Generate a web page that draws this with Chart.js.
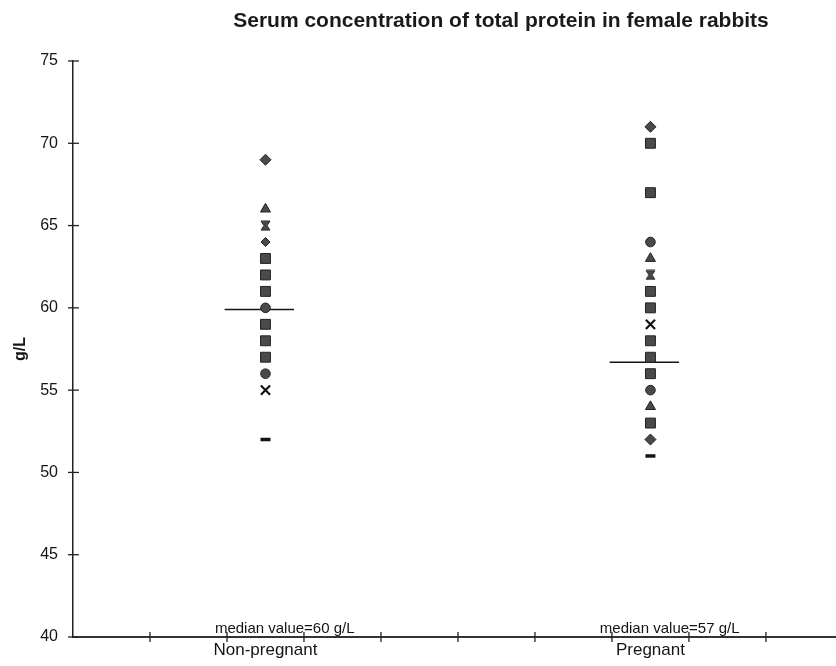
<!DOCTYPE html>
<html>
<head>
<meta charset="utf-8">
<title>Serum concentration of total protein in female rabbits</title>
<script src="https://cdn.jsdelivr.net/npm/chart.js@4.4.1/dist/chart.umd.min.js"></script>
<style>
  html, body { margin: 0; padding: 0; background: #fff; }
  #wrap { width: 836px; height: 666px; }
</style>
</head>
<body>
<div id="wrap"><canvas id="chart" width="836" height="666"></canvas></div>
<script>
// data
const chartTitle = 'Serum concentration of total protein in female rabbits';
const yTitle = 'g/L';
const groups = ['Non-pregnant', 'Pregnant'];
const groupX = [2.5, 7.5];
const nonPregnantValues = [69, 66, 65, 64, 63, 62, 61, 60, 59, 58, 57, 56, 55, 52];
const pregnantValues = [71, 70, 67, 64, 63, 62, 61, 60, 59, 58, 57, 56, 55, 54, 53, 52, 51];
const medianValues = [59.9, 56.7];
const medianLabels = ['median value=60 g/L', 'median value=57 g/L'];

// marker shape of each point (style only)
const nonPregnantMarkers = ['diamond', 'triangle', 'hourglass', 'diamondSm', 'square', 'square', 'square',
  'circle', 'square', 'square', 'square', 'circle', 'x', 'dash'];
const pregnantMarkers = ['diamond', 'square', 'square', 'circle', 'triangle', 'hourglass', 'square', 'square',
  'x', 'square', 'square', 'square', 'circle', 'triangle', 'square', 'diamond', 'dash'];

const FONT = "'Liberation Sans', Arial, Helvetica, sans-serif";
const fillCol = '#4a4a4a';
const edgeCol = '#222';
const inkCol = '#141414';

Chart.defaults.font.family = FONT;
Chart.defaults.color = inkCol;

function makeHourglass() {
  const c = document.createElement('canvas');
  c.width = 11; c.height = 11;
  const g = c.getContext('2d');
  g.fillStyle = fillCol;
  g.strokeStyle = edgeCol;
  g.lineWidth = 1;
  g.beginPath();
  g.moveTo(1, 1); g.lineTo(10, 1); g.lineTo(7, 5.5); g.lineTo(10, 10);
  g.lineTo(1, 10); g.lineTo(4, 5.5); g.closePath();
  g.fill(); g.stroke();
  return c;
}

const markerStyle = {
  diamond:   { style: 'rectRot', r: 5.5, bw: 1 },
  diamondSm: { style: 'rectRot', r: 4.5, bw: 1 },
  triangle:  { style: 'triangle', r: 5.8, bw: 1 },
  square:    { style: 'rect', r: 7, bw: 1 },
  circle:    { style: 'circle', r: 4.8, bw: 1 },
  x:         { style: 'crossRot', r: 6.5, bw: 2.2 },
  dash:      { style: 'line', r: 5, bw: 3.5 },
  hourglass: { style: makeHourglass(), r: 5.5, bw: 1 }
};

function groupDataset(values, markers, gi) {
  return {
    type: 'scatter',
    data: values.map(v => ({ x: groupX[gi], y: v })),
    pointStyle: markers.map(m => markerStyle[m].style),
    pointRadius: markers.map(m => markerStyle[m].r),
    pointHoverRadius: markers.map(m => markerStyle[m].r),
    pointBorderWidth: markers.map(m => markerStyle[m].bw),
    pointBackgroundColor: fillCol,
    pointBorderColor: markers.map(m => (m === 'x' || m === 'dash') ? inkCol : edgeCol),
    showLine: false
  };
}

const medianSets = medianValues.map((m, i) => ({
  type: 'line',
  data: [{ x: groupX[i] - 0.53, y: m }, { x: groupX[i] + 0.37, y: m }],
  borderColor: inkCol,
  borderWidth: 1.5,
  pointRadius: 0,
  fill: false
}));

// title, crossing tick marks and median captions
const decorations = {
  id: 'decorations',
  afterDraw(chart) {
    const { ctx, chartArea, scales } = chart;
    const xs = scales.x, ys = scales.y;
    ctx.save();

    ctx.fillStyle = '#1a1a1a';
    ctx.font = 'bold 21px ' + FONT;
    ctx.textAlign = 'center';
    ctx.textBaseline = 'middle';
    ctx.fillText(chartTitle, 501, 21);

    ctx.strokeStyle = '#222';
    ctx.lineWidth = 1.3;
    ys.ticks.forEach(t => {
      const py = ys.getPixelForValue(t.value);
      ctx.beginPath();
      ctx.moveTo(chartArea.left - 5, py);
      ctx.lineTo(chartArea.left + 6, py);
      ctx.stroke();
    });
    xs.ticks.forEach(t => {
      if (t.value === 0 || !Number.isInteger(t.value)) return;
      const px = xs.getPixelForValue(t.value);
      ctx.beginPath();
      ctx.moveTo(px, chartArea.bottom - 5);
      ctx.lineTo(px, chartArea.bottom + 5);
      ctx.stroke();
    });

    ctx.font = '15px ' + FONT;
    ctx.textBaseline = 'alphabetic';
    ctx.fillStyle = inkCol;
    medianLabels.forEach((txt, i) => {
      ctx.fillText(txt, xs.getPixelForValue(groupX[i] + 0.25), chartArea.bottom - 4);
    });
    ctx.restore();
  }
};

new Chart(document.getElementById('chart'), {
  data: {
    datasets: [
      groupDataset(nonPregnantValues, nonPregnantMarkers, 0),
      groupDataset(pregnantValues, pregnantMarkers, 1),
      ...medianSets
    ]
  },
  options: {
    responsive: false,
    animation: false,
    devicePixelRatio: 1,
    layout: { autoPadding: false, padding: { top: 61, left: 0, right: 0, bottom: 0 } },
    plugins: {
      legend: { display: false },
      tooltip: { enabled: false },
      title: { display: false }
    },
    scales: {
      x: {
        type: 'linear',
        min: 0,
        max: 9.91,
        afterBuildTicks: s => {
          const extra = groupX.map(v => ({ value: v }));
          s.ticks = s.ticks.concat(extra).sort((a, b) => a.value - b.value);
        },
        ticks: {
          stepSize: 1,
          includeBounds: false,
          autoSkip: false,
          maxRotation: 0,
          padding: 3,
          font: { size: 17 },
          color: inkCol,
          callback: v => {
            const i = groupX.indexOf(v);
            return i >= 0 ? groups[i] : '';
          }
        },
        grid: { display: false, drawTicks: false, tickLength: 0 },
        border: { display: true, color: '#333', width: 2 },
        afterFit: s => { s.height = 29; }
      },
      y: {
        min: 40,
        max: 75,
        ticks: { stepSize: 5, padding: 15, font: { size: 16 }, color: inkCol },
        grid: { display: false, drawTicks: false, tickLength: 0 },
        border: { display: true, color: '#222', width: 1.5 },
        title: {
          display: true,
          text: yTitle,
          font: { size: 16, weight: 'bold' },
          color: inkCol,
          padding: { top: 11, bottom: 0 }
        },
        afterFit: s => { s.width = 73; }
      }
    }
  },
  plugins: [decorations]
});
</script>
</body>
</html>
